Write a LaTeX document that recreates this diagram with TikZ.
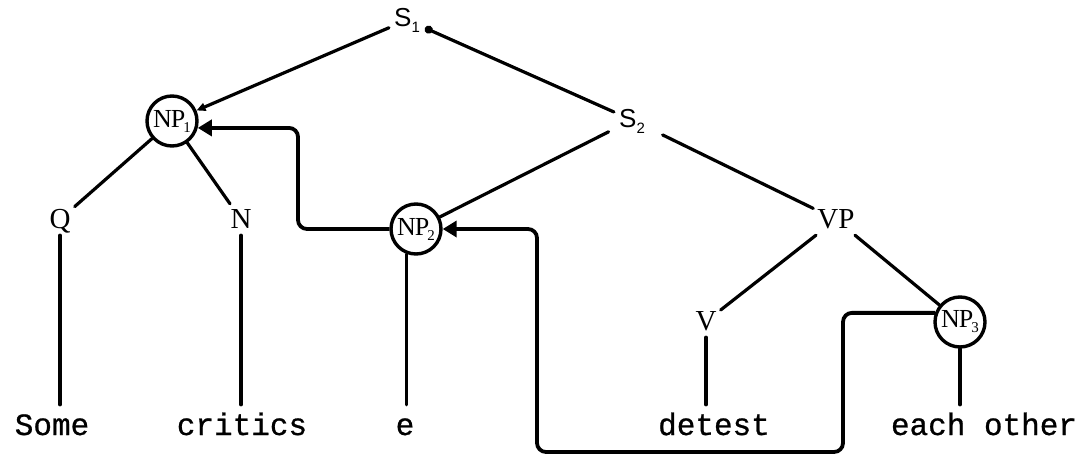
\documentclass[tikz,border=0pt]{standalone}
\usepackage{fontspec}
\setmainfont{Liberation Serif}
\setmonofont{Liberation Mono}[FakeBold=0.8]
\newfontfamily\sansf{Liberation Sans}
\usetikzlibrary{arrows.meta}
\begin{document}
\begin{tikzpicture}[x=1pt,y=-1pt,
 edge/.style={line width=3.2pt, line cap=round},
 link/.style={line width=3.8pt, rounded corners=9pt, -{Triangle[length=14pt,width=16pt]}},
 lab/.style={font=\fontsize{29}{32}\selectfont, anchor=base, text height=19pt, text depth=2pt, inner xsep=4pt, inner ysep=5pt},
 snode/.style={font=\sansf\fontsize{26}{30}\selectfont, anchor=base, text height=19pt, text depth=5pt, inner sep=5pt},
 np/.style={circle, draw, line width=3.4pt, minimum size=50pt, inner sep=0pt, font=\fontsize{26}{28}\selectfont},
 leaf/.style={font=\ttfamily\fontsize{31}{36}\selectfont, anchor=base, text height=21pt, text depth=7pt, inner ysep=9pt}]
\useasboundingbox (0,0) rectangle (1086,460);
% nodes
\node[snode] (s1) at (407,27) {S\raisebox{-6pt}{\fontsize{15}{15}\selectfont 1}};
\node[snode] (s2) at (632,127) {S\raisebox{-6pt}{\fontsize{15}{15}\selectfont 2}};
\node[np] (np1) at (172,121) {N\kern-1ptP\kern-2pt\raisebox{-5pt}{\fontsize{15}{15}\selectfont 1}};
\node[np] (np2) at (416,229) {N\kern-1ptP\kern-2pt\raisebox{-5pt}{\fontsize{15}{15}\selectfont 2}};
\node[np] (np3) at (960,322) {N\kern-1ptP\kern-2pt\raisebox{-5pt}{\fontsize{15}{15}\selectfont 3}};
\node[lab] (q) at (60,228) {Q};
\node[lab] (n) at (241,228) {N};
\node[lab] (vp) at (836,228) {VP};
\node[lab] (v) at (706,330) {V};
\node[leaf] (some) at (52,435) {Some};
\node[leaf] (critics) at (242,435) {critics};
\node[leaf] (e) at (405,435) {e};
\node[leaf] (detest) at (714,435) {detest};
\node[leaf] (eachother) at (984,435) {each other};
% tree edges
\draw[edge, -{Triangle[length=9pt,width=8pt]}] (s1) -- (np1);
\draw[edge, {Circle[length=8pt]}-] (s1) -- (s2);
\draw[edge, shorten <=6pt] (s2) -- (np2);
\draw[edge, shorten <=14pt] (s2) -- (vp);
\draw[edge] (np1) -- (q);
\draw[edge] (np1) -- (n);
\draw[edge] (q.south) -- (q.south |- some.north);
\draw[edge] (n.south) -- (n.south |- critics.north);
\draw[edge] (np2.250) -- (np2.250 |- e.north);
\draw[edge] (vp) -- (v);
\draw[edge] (vp) -- (np3);
\draw[edge] (v.south) -- (v.south |- detest.north);
\draw[edge] (np3.south) -- (np3.south |- eachother.north);
% movement links
\coordinate (c1) at (298,0);
\coordinate (c2) at (537,452);
\coordinate (c3) at (843,452);
\draw[link] (np2.west) -- (np2.west -| c1) -- (np1.-15 -| c1) -- (np1.-15);
\draw[link] (np3.160) -- (np3.160 -| c3) -- (c3) -- (c2) -- (np2.east -| c2) -- (np2.east);
\end{tikzpicture}
\end{document}
